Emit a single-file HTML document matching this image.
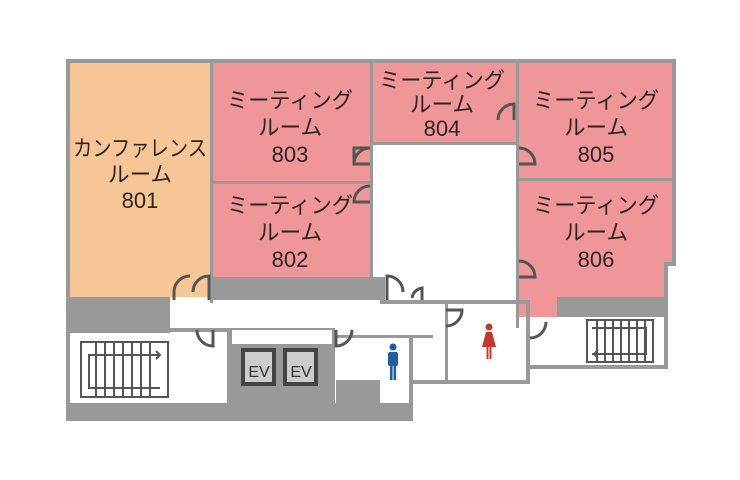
<!DOCTYPE html>
<html><head><meta charset="utf-8"><style>
html,body{margin:0;padding:0;background:#fff;}
svg{display:block}
text{font-family:"Liberation Sans","Noto Sans CJK JP",sans-serif;fill:#2e2222;font-size:22px;text-anchor:middle}
.d{fill:none;stroke:#555;stroke-width:3}
</style></head><body>
<svg width="740" height="480" viewBox="0 0 740 480" xmlns="http://www.w3.org/2000/svg">
<rect x="66" y="59" width="610" height="4" fill="#999"/>
<rect x="66" y="59" width="4" height="362" fill="#999"/>
<rect x="66" y="403" width="347" height="18" fill="#999"/>
<rect x="70" y="63" width="140" height="234" fill="#f7c697"/>
<rect x="210" y="63" width="3" height="240" fill="#999"/>
<rect x="213" y="63" width="157" height="118" fill="#ef9698"/>
<rect x="213" y="181" width="157" height="3" fill="#999"/>
<rect x="213" y="184" width="157" height="93" fill="#ef9698"/>
<rect x="370" y="63" width="3" height="215" fill="#999"/>
<rect x="213" y="277" width="172" height="23" fill="#999"/>
<rect x="373" y="63" width="143" height="80" fill="#ef9698"/>
<rect x="373" y="142" width="143" height="3" fill="#999"/>
<rect x="516" y="63" width="3" height="265" fill="#999"/>
<rect x="519" y="63" width="154" height="116" fill="#ef9698"/>
<rect x="519" y="178" width="154" height="3" fill="#999"/>
<rect x="519" y="181" width="154" height="82" fill="#ef9698"/>
<rect x="519" y="263" width="146" height="34" fill="#ef9698"/>
<rect x="519" y="297" width="38" height="20" fill="#ef9698"/>
<rect x="557" y="297" width="108" height="20" fill="#999"/>
<rect x="672" y="59" width="4" height="206" fill="#999"/>
<rect x="664" y="262" width="12" height="4" fill="#999"/>
<rect x="664" y="262" width="4" height="107" fill="#999"/>
<rect x="528" y="365" width="140" height="4" fill="#999"/>
<rect x="70" y="297" width="100" height="36" fill="#999"/>
<rect x="70" y="335" width="157" height="68" fill="#fff"/>
<rect x="170" y="328" width="57" height="4" fill="#999"/>
<rect x="227" y="328" width="108" height="78" fill="#999"/>
<rect x="232" y="330" width="100" height="14" fill="#fff"/>
<rect x="380" y="300" width="150" height="4" fill="#999"/>
<rect x="241" y="348" width="35" height="38" fill="#444"/>
<rect x="283" y="348" width="35" height="38" fill="#444"/>
<rect x="245" y="352" width="27" height="30" fill="#ccc"/>
<rect x="287" y="352" width="27" height="30" fill="#ccc"/>
<text x="259" y="377" style="font-size:16px;fill:#333">EV</text>
<text x="301" y="377" style="font-size:16px;fill:#333">EV</text>
<rect x="335" y="335" width="75" height="3" fill="#999"/>
<rect x="336" y="380" width="44" height="40" fill="#999"/>
<rect x="409" y="335" width="4" height="86" fill="#999"/>
<rect x="413" y="380" width="116" height="4" fill="#999"/>
<rect x="445" y="300" width="3" height="82" fill="#999"/>
<rect x="526" y="300" width="4" height="84" fill="#999"/>
<rect x="413" y="335" width="20" height="3" fill="#999"/>
<g fill="#1f5f9e"><circle cx="393" cy="347" r="3.5"/><rect x="388" y="352" width="10" height="14" rx="2"/><rect x="390" y="364" width="2.6" height="16"/><rect x="393.5" y="364" width="2.6" height="16"/></g>
<g fill="#c0392b"><circle cx="489" cy="327" r="3.5"/><path d="M486 332h6l4 15h-14z"/><rect x="486.5" y="346" width="2" height="13"/><rect x="489.5" y="346" width="2" height="13"/></g>
<g fill="none" stroke="#555" stroke-width="2">
<rect x="81" y="342" width="87" height="55"/>
<path d="M96 342v55M105 342v55M114 342v55M123 342v55M132 342v55M141 342v55M150 342v55"/>
<path d="M160 355H89v33h71"/><path d="M156 351l4 4-4 4"/>
<rect x="587" y="320" width="66" height="42"/>
<path d="M597 320v42M605 320v42M613 320v42M621 320v42M629 320v42M637 320v42M645 320v42"/>
<path d="M592 328h54v26h-54"/><path d="M598 350l-4 4 4 4"/>
</g>
<path class="d" d="M174 300v-8a16 16 0 0 1 16 -16"/>
<path class="d" d="M209 300v-24a16 16 0 0 0 -16 16"/>
<path class="d" d="M197 330a16 16 0 0 0 16 16v-16"/>
<path class="d" d="M336 330v16a16 16 0 0 0 16 -16"/>
<path class="d" d="M387 300v-24a16 16 0 0 1 16 16"/>
<path class="d" d="M422 300v-12a12 12 0 0 0 -10 10"/>
<path class="d" d="M446 326a16 16 0 0 0 16 -16h-16"/>
<path class="d" d="M530 338a16 16 0 0 0 16 -16"/>
<path class="d" d="M370 148h-16v16h16"/><path class="d" d="M354 164a16 16 0 0 1 16 -16"/>
<path class="d" d="M370 186a16 16 0 0 0 -16 16h16"/>
<path class="d" d="M514 120v-16a16 16 0 0 0 -16 16"/>
<path class="d" d="M519 148a16 16 0 0 1 16 16h-16"/>
<path class="d" d="M519 261a16 16 0 0 1 16 16h-16"/>
<text x="140" y="156" textLength="134" lengthAdjust="spacingAndGlyphs">カンファレンス</text><text x="140" y="182" textLength="64" lengthAdjust="spacingAndGlyphs">ルーム</text><text x="140" y="208">801</text>
<text x="290" y="108" textLength="126" lengthAdjust="spacingAndGlyphs">ミーティング</text><text x="290" y="135" textLength="64" lengthAdjust="spacingAndGlyphs">ルーム</text><text x="290" y="162">803</text>
<text x="290" y="213" textLength="126" lengthAdjust="spacingAndGlyphs">ミーティング</text><text x="290" y="240" textLength="64" lengthAdjust="spacingAndGlyphs">ルーム</text><text x="290" y="267">802</text>
<text x="442" y="88" textLength="126" lengthAdjust="spacingAndGlyphs">ミーティング</text><text x="442" y="112" textLength="64" lengthAdjust="spacingAndGlyphs">ルーム</text><text x="442" y="136">804</text>
<text x="596" y="108" textLength="126" lengthAdjust="spacingAndGlyphs">ミーティング</text><text x="596" y="135" textLength="64" lengthAdjust="spacingAndGlyphs">ルーム</text><text x="596" y="162">805</text>
<text x="596" y="213" textLength="126" lengthAdjust="spacingAndGlyphs">ミーティング</text><text x="596" y="240" textLength="64" lengthAdjust="spacingAndGlyphs">ルーム</text><text x="596" y="267">806</text>
</svg>
</body></html>
